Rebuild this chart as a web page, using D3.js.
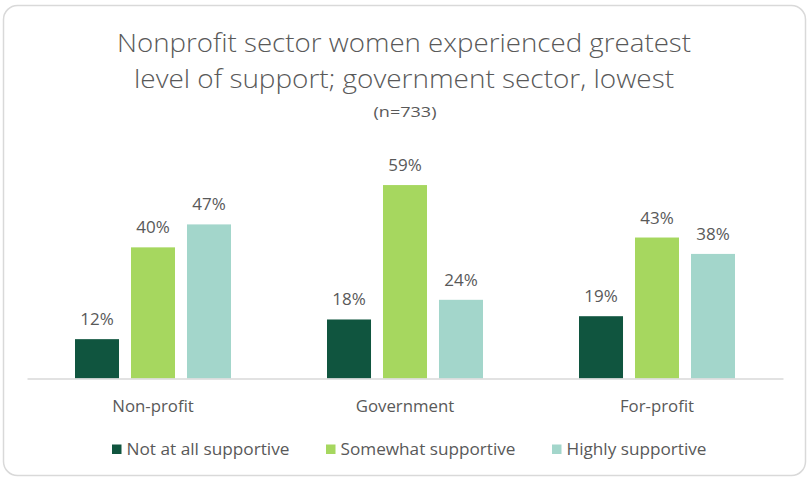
<!DOCTYPE html>
<html>
<head>
<meta charset="utf-8">
<script src="https://cdn.jsdelivr.net/npm/d3@7"></script>
<style>
  html, body { margin: 0; padding: 0; background: #fff; }
  svg { display: block; }
  text { font-family: "Open Sans", "Noto Sans", sans-serif; fill: #595959; }
  .title { font-weight: 300; }
</style>
</head>
<body>
<svg id="chart" width="809" height="480"></svg>
<script>
// Sectors on the x axis
const categories = ["Non-profit", "Government", "For-profit"];
// Support levels (legend order)
const seriesNames = ["Not at all supportive", "Somewhat supportive", "Highly supportive"];
// Share of respondents per sector, one array per support level
const notAtAll   = [0.12, 0.18, 0.19];
const somewhat   = [0.40, 0.59, 0.43];
const highly     = [0.47, 0.24, 0.38];
const seriesValues = [notAtAll, somewhat, highly];
const colors = ["#10553F", "#A6D75F", "#A3D6CB"];

const titleLines = [
  "Nonprofit sector women experienced greatest",
  "level of support; government sector, lowest"
];
const subtitle = "(n=733)";

const svg = d3.select("#chart");

// Card outline
svg.append("rect")
  .attr("x", 3.5).attr("y", 5.5)
  .attr("width", 802).attr("height", 470)
  .attr("rx", 14).attr("ry", 14)
  .attr("fill", "#fff")
  .attr("stroke", "#D9D9D9")
  .attr("stroke-width", 1.5);

// Title
const titleWidths = [574, 540];
titleLines.forEach((line, i) => {
  svg.append("text")
    .attr("class", "title")
    .attr("x", 404).attr("y", 52 + i * 36)
    .attr("text-anchor", "middle")
    .attr("font-size", 26)
    .attr("textLength", titleWidths[i])
    .attr("lengthAdjust", "spacingAndGlyphs")
    .text(line);
});
svg.append("text")
  .attr("x", 405).attr("y", 116.5)
  .attr("text-anchor", "middle")
  .attr("font-size", 15)
  .attr("textLength", 63)
  .attr("lengthAdjust", "spacingAndGlyphs")
  .text(subtitle);

// Scales
const x0 = d3.scaleBand().domain(categories).range([27, 783]).padding(0);
const groupWidth = 156;
const x1 = d3.scaleBand().domain(d3.range(seriesNames.length))
  .range([0, groupWidth]).paddingInner(0.214).paddingOuter(0);
const y = d3.scaleLinear().domain([0, 0.7]).range([378.5, 149]);

const fmt = d3.format(".0%");

// Bars and value labels
const groups = svg.append("g").selectAll("g")
  .data(categories)
  .join("g")
  .attr("transform", d => `translate(${x0(d) + (x0.bandwidth() - groupWidth) / 2},0)`);

groups.each(function(cat, ci) {
  const g = d3.select(this);
  seriesValues.forEach((vals, si) => {
    const v = vals[ci];
    g.append("rect")
      .attr("x", x1(si))
      .attr("y", y(v))
      .attr("width", x1.bandwidth())
      .attr("height", y(0) - y(v))
      .attr("fill", colors[si]);
    g.append("text")
      .attr("x", x1(si) + x1.bandwidth() / 2)
      .attr("y", y(v) - 14)
      .attr("text-anchor", "middle")
      .attr("font-size", 17)
      .text(fmt(v));
  });
});

// Category axis
const xAxis = d3.axisBottom(x0).tickSize(0).tickPadding(0);
const axisG = svg.append("g")
  .attr("transform", `translate(0,${y(0)})`)
  .call(xAxis);
axisG.select(".domain").attr("stroke", "#D9D9D9").attr("stroke-width", 1.5);
axisG.selectAll(".tick text")
  .attr("y", 33)
  .attr("dy", 0)
  .attr("font-size", 16.8)
  .style("font-family", "\"Open Sans\", \"Noto Sans\", sans-serif")
  .attr("fill", "#595959");

// Legend
const legendX = [112, 326, 552];
const legendW = [163, 175, 140];
const legend = svg.append("g");
seriesNames.forEach((name, i) => {
  legend.append("rect")
    .attr("x", legendX[i]).attr("y", 444.5)
    .attr("width", 9.5).attr("height", 9.5)
    .attr("fill", colors[i]);
  legend.append("text")
    .attr("x", legendX[i] + 14.5).attr("y", 454.5)
    .attr("font-size", 16.5)
    .attr("textLength", legendW[i])
    .attr("lengthAdjust", "spacingAndGlyphs")
    .text(name);
});
</script>
</body>
</html>
